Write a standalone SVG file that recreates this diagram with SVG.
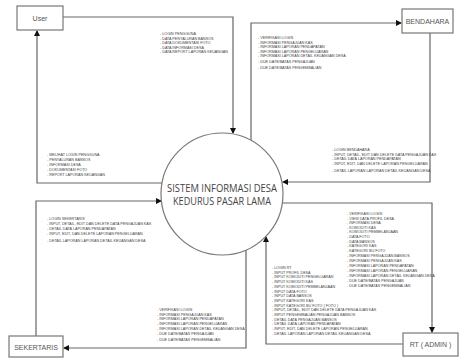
<svg xmlns="http://www.w3.org/2000/svg" width="459" height="358" viewBox="0 0 459 358">
<defs>
<marker id="arr" markerWidth="6" markerHeight="6" refX="5" refY="3" orient="auto" markerUnits="userSpaceOnUse">
<path d="M0,0 L6,3 L0,6 Z" fill="#111"/>
</marker>
<style>
.box{fill:#fff;stroke:#777;stroke-width:1.2}
.lbl{font-family:"Liberation Sans",Arial,sans-serif;font-size:7px;fill:#555;text-anchor:middle}
.flow{fill:none;stroke:#666;stroke-width:1.2;marker-end:url(#arr)}
.t{font-family:"Liberation Sans",Arial,sans-serif;font-size:3.7px;fill:#444}
.ct{font-family:"Open Sans","Liberation Sans",sans-serif;font-size:10px;fill:#444;text-anchor:middle}
</style>
</defs>
<rect width="459" height="358" fill="#fff"/>
<g id="connectors">
<path class="flow" d="M63,17 H233 V133"/>
<path class="flow" d="M162,183 H37 V31"/>
<path class="flow" d="M251,140 V23 H401"/>
<path class="flow" d="M430,33 V182 H283"/>
<path class="flow" d="M281,203 H432 V332"/>
<path class="flow" d="M403,344 H266 V237"/>
<path class="flow" d="M246,250 V348 H64"/>
<path class="flow" d="M36,336 V201 H161"/>
</g>
<g id="labels">
<text class="t" x="160" y="35">- LOGIN PENGGUNA</text>
<text class="t" x="160" y="39.5">- DATA PENYALURAN BANSOS</text>
<text class="t" x="160" y="44">- DATA DOKUMENTASI FOTO</text>
<text class="t" x="160" y="48.5">- DATA INFORMASI DESA</text>
<text class="t" x="160" y="53">- DATA REPORT LAPORAN KEUANGAN</text>

<text class="t" x="47" y="156">- MELIHAT LOGIN PENGGUNA</text>
<text class="t" x="47" y="161">- PENYALURAN BANSOS</text>
<text class="t" x="47" y="166">- INFORMASI DESA</text>
<text class="t" x="47" y="170.5">- DOKUMENTASI FOTO</text>
<text class="t" x="47" y="175.5">- REPORT LAPORAN KEUANGAN</text>

<text class="t" x="258" y="39">- VERIFIKASI LOGIN</text>
<text class="t" x="258" y="43.5">- INFORMASI PENGAJUAN KAS</text>
<text class="t" x="258" y="48">- INFORMASI LAPORAN PENDAPATAN</text>
<text class="t" x="258" y="52.5">- INFORMASI LAPORAN PENGELUARAN</text>
<text class="t" x="258" y="57">- INFORMASI LAPORAN DETAIL KEUANGAN DESA</text>
<text class="t" x="258" y="62.5">- DUE DATE/BATAS PENGAJUAN</text>
<text class="t" x="258" y="69">- DUE DATE/BATAS PENGEMBALIAN</text>

<text class="t" x="332" y="151">- LOGIN BENDAHARA</text>
<text class="t" x="332" y="155.5">- INPUT, DETAIL, EDIT DAN DELETE DATA PENGAJUAN KAS</text>
<text class="t" x="332" y="160">- DETAIL DATA LAPORAN PENDAPATAN</text>
<text class="t" x="332" y="165">- INPUT, EDIT, DAN DELETE LAPORAN PENGELUARAN</text>
<text class="t" x="332" y="172">- DETAIL LAPORAN LAPORAN DETAIL KEUANGAN DESA</text>

<text class="t" x="47" y="220">- LOGIN SEKERTARIS</text>
<text class="t" x="47" y="225">- INPUT, DETAIL, EDIT DAN DELETE DATA PENGAJUAN KAS</text>
<text class="t" x="47" y="229.5">- DETAIL DATA LAPORAN PENDAPATAN</text>
<text class="t" x="47" y="234.5">- INPUT, EDIT, DAN DELETE LAPORAN PENGELUARAN</text>
<text class="t" x="47" y="242">- DETAIL LAPORAN LAPORAN DETAIL KEUANGAN DESA</text>

<text class="t" x="157" y="311">- VERIFIKASI LOGIN</text>
<text class="t" x="157" y="315.5">- INFORMASI PENGAJUAN KAS</text>
<text class="t" x="157" y="320">- INFORMASI LAPORAN PENDAPATAN</text>
<text class="t" x="157" y="325">- INFORMASI LAPORAN PENGELUARAN</text>
<text class="t" x="157" y="329.5">- INFORMASI LAPORAN DETAIL KEUANGAN DESA</text>
<text class="t" x="157" y="335">- DUE DATE/BATAS PENGAJUAN</text>
<text class="t" x="157" y="341">- DUE DATE/BATAS PENGEMBALIAN</text>

<text class="t" x="272" y="269">- LOGIN RT</text>
<text class="t" x="272" y="273.5">- INPUT PROFIL DESA</text>
<text class="t" x="272" y="278">- INPUT KOMODITI PENGELUARAN</text>
<text class="t" x="272" y="283">- INPUT KOMODITI KAS</text>
<text class="t" x="272" y="287.5">- INPUT KOMODITI PEMBELANJAAN</text>
<text class="t" x="272" y="292.5">- INPUT DATA FOTO</text>
<text class="t" x="272" y="297">- INPUT DATA BANSOS</text>
<text class="t" x="272" y="302">- INPUT KATEGORI KAS</text>
<text class="t" x="272" y="306.5">- INPUT KATEGORI BU FOTO ( FOTO )</text>
<text class="t" x="272" y="311">- INPUT, DETAIL, EDIT DAN DELETE DATA PENGAJUAN KAS</text>
<text class="t" x="272" y="316">- INPUT PENGEMBALIAN PENGAJUAN BANSOS</text>
<text class="t" x="272" y="320.5">- DETAIL DATA PENGAJUAN BANSOS</text>
<text class="t" x="272" y="325">- DETAIL DATA LAPORAN PENDAPATAN</text>
<text class="t" x="272" y="330">- INPUT, EDIT, DAN DELETE LAPORAN PENGELUARAN</text>
<text class="t" x="272" y="334.5">- DETAIL LAPORAN LAPORAN DETAIL KEUANGAN DESA</text>

<text class="t" x="347" y="215">- VERIFIKASI LOGIN</text>
<text class="t" x="347" y="219.5">- VIEW DATA PROFIL DESA</text>
<text class="t" x="347" y="224">- INFORMASI DESA</text>
<text class="t" x="347" y="228.5">- KOMODITI KAS</text>
<text class="t" x="347" y="233">- KOMODITI PEMBELANJAAN</text>
<text class="t" x="347" y="238">- DATA FOTO</text>
<text class="t" x="347" y="242.5">- DATA BANSOS</text>
<text class="t" x="347" y="247">- KATEGORI KAS</text>
<text class="t" x="347" y="251.5">- KATEGORI BU FOTO</text>
<text class="t" x="347" y="257">- INFORMASI PENGAJUAN BANSOS</text>
<text class="t" x="347" y="262">- INFORMASI PENGAJUAN KAS</text>
<text class="t" x="347" y="267">- INFORMASI LAPORAN PENDAPATAN</text>
<text class="t" x="347" y="271.5">- INFORMASI LAPORAN PENGELUARAN</text>
<text class="t" x="347" y="277">- INFORMASI LAPORAN DETAIL KEUANGAN DESA</text>
<text class="t" x="347" y="282">- DUE DATE/BATAS PENGAJUAN</text>
<text class="t" x="347" y="286.5">- DUE DATE/BATAS PENGEMBALIAN</text>
</g>
<g id="system">
<circle cx="222" cy="194" r="61" fill="#fff" stroke="#777" stroke-width="1.2"/>
<text class="ct" x="222" y="192" textLength="110" lengthAdjust="spacingAndGlyphs">SISTEM INFORMASI DESA</text>
<text class="ct" x="222" y="205" textLength="98" lengthAdjust="spacingAndGlyphs">KEDURUS PASAR LAMA</text>
</g>
<g id="user">
<rect class="box" x="17" y="6" width="46" height="24"/>
<text class="lbl" x="40" y="20.5">User</text>
</g>
<g id="bendahara">
<rect class="box" x="402" y="9" width="51" height="24"/>
<text class="lbl" x="427.5" y="23.5">BENDAHARA</text>
</g>
<g id="rt">
<rect class="box" x="403" y="333" width="55" height="23"/>
<text class="lbl" x="430.5" y="347">RT ( ADMIN )</text>
</g>
<g id="sekertaris">
<rect class="box" x="9" y="336" width="54" height="21"/>
<text class="lbl" x="36" y="349.5">SEKERTARIS</text>
</g>
</svg>
